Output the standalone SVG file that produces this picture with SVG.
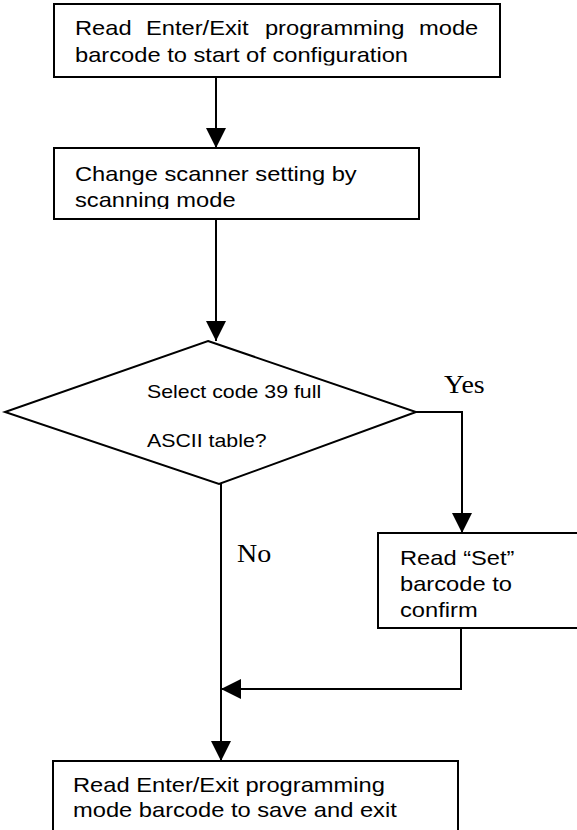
<svg xmlns="http://www.w3.org/2000/svg" width="577" height="830" viewBox="0 0 577 830">
<style>
.box{fill:#fff;stroke:#000;stroke-width:2}
.conn{fill:none;stroke:#000;stroke-width:2}
.t{font-family:"Liberation Sans",Arial,sans-serif;font-size:20px;fill:#000}
.td{font-family:"Liberation Sans",Arial,sans-serif;font-size:18px;fill:#000}
.lbl{font-family:"Liberation Serif","Times New Roman",serif;font-size:25px;fill:#000}
</style>
<defs>
<marker id="ah" markerUnits="userSpaceOnUse" markerWidth="20" markerHeight="20" refX="20" refY="10" orient="auto" viewBox="0 0 20 20">
<path d="M0,0 L20,10 L0,20 z" fill="#000"/>
</marker>
<clipPath id="c1"><rect x="54" y="4" width="446" height="61.5"/></clipPath>
<clipPath id="c2"><rect x="54" y="148" width="365" height="61"/></clipPath>
</defs>
<rect width="577" height="830" fill="#fff"/>
<g id="n1">
<rect class="box" x="54" y="4" width="446" height="73"/>
<g clip-path="url(#c1)">
<text class="t" transform="translate(75,35) scale(1.185,1)"><tspan x="0">Read</tspan><tspan x="59.9">Enter/Exit</tspan><tspan x="160.3">programming</tspan><tspan x="290.3">mode</tspan></text>
<text class="t" transform="translate(75,62) scale(1.185,1)">barcode to start of configuration</text>
</g>
</g>
<g id="n2">
<rect class="box" x="54" y="148" width="365" height="71"/>
<g clip-path="url(#c2)">
<text class="t" transform="translate(75,181) scale(1.185,1)">Change scanner setting by</text>
<text class="t" transform="translate(75,207) scale(1.185,1)">scanning mode</text>
</g>
</g>
<g id="n3">
<polygon class="box" points="208,341 416,412 219,484 5,412"/>
<text class="td" transform="translate(147,398) scale(1.185,1)">Select code 39 full</text>
<text class="td" transform="translate(147,447) scale(1.185,1)">ASCII table?</text>
</g>
<g id="n4">
<rect class="box" x="378" y="533" width="210" height="95"/>
<text class="t" transform="translate(400,565) scale(1.185,1)">Read “Set”</text>
<text class="t" transform="translate(400,591) scale(1.185,1)">barcode to</text>
<text class="t" transform="translate(400,617) scale(1.185,1)">confirm</text>
</g>
<g id="n5">
<rect class="box" x="53" y="761" width="405" height="80"/>
<text class="t" transform="translate(73,792) scale(1.185,1)">Read Enter/Exit programming</text>
<text class="t" transform="translate(73,817) scale(1.185,1)">mode barcode to save and exit</text>
</g>
<g id="connectors">
<path class="conn" d="M216,77 L216,148" marker-end="url(#ah)"/>
<path class="conn" d="M216,219 L216,341" marker-end="url(#ah)"/>
<path class="conn" d="M416,412 L462,412 L462,533" marker-end="url(#ah)"/>
<path class="conn" d="M221,484 L221,761" marker-end="url(#ah)"/>
<path class="conn" d="M461,628 L461,689 L221,689" marker-end="url(#ah)"/>
</g>
<g id="labels">
<text class="lbl" transform="translate(444,393) scale(1.12,1)">Yes</text>
<text class="lbl" transform="translate(237,562) scale(1.12,1)">No</text>
</g>
</svg>
